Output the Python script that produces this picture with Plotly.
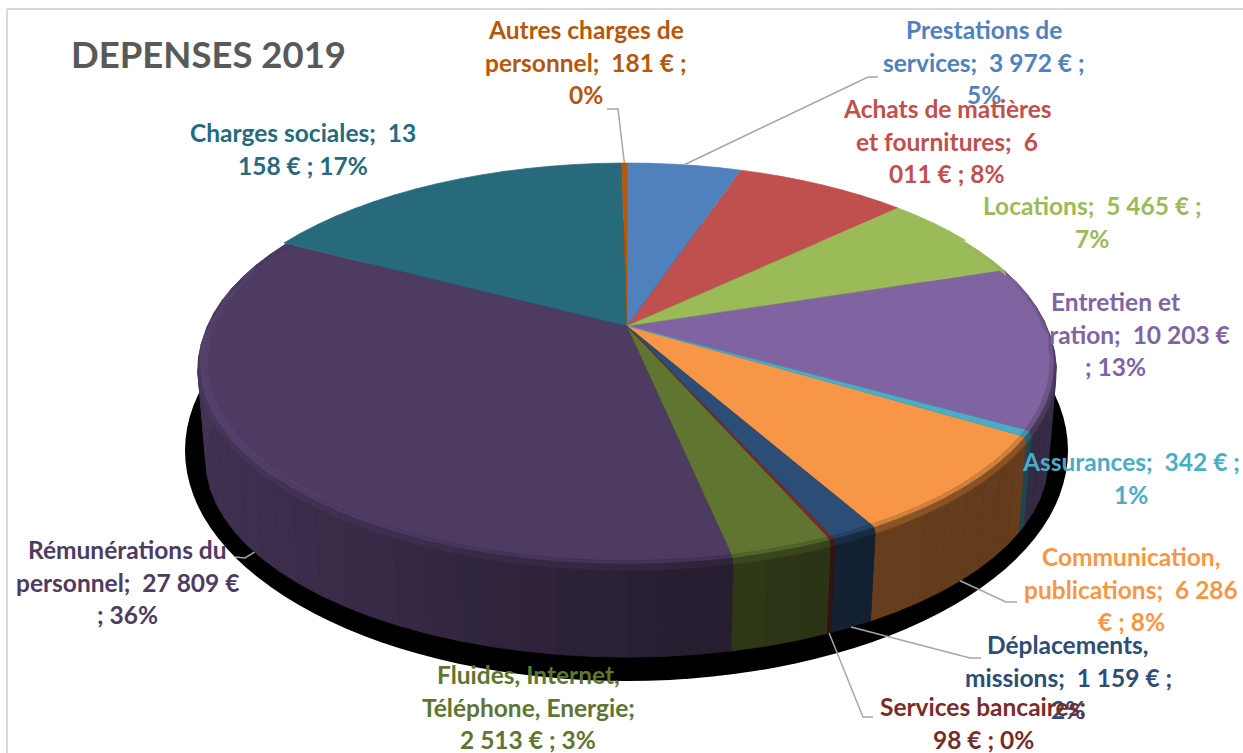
import numpy as np
import plotly.graph_objects as go

# ---------- data ----------
categories = ["Prestations de services", "Achats de matières et fournitures", "Locations",
              "Entretien et réparation", "Assurances", "Communication, publications",
              "Déplacements, missions", "Services bancaires", "Fluides, Internet, Téléphone, Energie",
              "Rémunérations du personnel", "Charges sociales", "Autres charges de personnel"]
values = [3972, 6011, 5465, 10203, 342, 6286, 1159, 98, 2513, 27809, 13158, 181]
colors = ["#4F81BD", "#C0504D", "#9BBB59", "#8064A2", "#4BACC6", "#F79646",
          "#2C4D75", "#772C2A", "#5F7530", "#4D3B62", "#276A7C", "#B65708"]
label_lines = [
    ["Prestations de", "services;\u00a0 3 972 € ;", "5%"],
    ["Achats de matières", "et fournitures;\u00a0 6", "011 € ; 8%"],
    ["Locations;\u00a0 5 465 € ;", "7%"],
    ["Entretien et", "réparation;\u00a0 10 203 €", "; 13%"],
    ["Assurances;\u00a0 342 € ;", "1%"],
    ["Communication,", "publications;\u00a0 6 286", "€ ; 8%"],
    ["Déplacements,", "missions;\u00a0 1 159 € ;", "2%"],
    ["Services bancaires;", "98 € ; 0%"],
    ["Fluides, Internet,", "Téléphone, Energie;", "2 513 € ; 3%"],
    ["Rémunérations du", "personnel;\u00a0 27 809 €", "; 36%"],
    ["Charges sociales;\u00a0 13", "158 € ; 17%"],
    ["Autres charges de", "personnel;\u00a0 181 € ;", "0%"],
]
title = "DEPENSES 2019"

# ---------- layout of the labels (centre x, first line y) ----------
label_pos = [(984, 29.5), (947, 108.5), (1092, 205.5), (1115, 301.5), (1131, 461.5), (1131, 556.5),
             (1068, 644.5), (983, 706.5), (528, 674.5), (127, 549.5), (303, 132.5), (586, 29.5)]
LINE_H = 32.7
FONT = "Lato, Carlito, Calibri, sans-serif"

# leader lines: slice index -> elbow points in page pixels (first end comes from the slice angle)
leaders = {0: [(868, 77), (878, 77)], 11: [(618, 109), (607, 109)],
           5: [(1006, 602), (1017, 602)], 6: [(970, 658), (981, 658)],
           7: [(863, 717), (873, 717)], 9: [(245, 558), (235, 557)]}

# ---------- perspective pie geometry ----------
CX, CY, R, S, K = 627, 326, 422, 193.8, 0.189
DEPTH, SHRINK = 97, 0.02


def project(theta_deg, r=1.0, d=0.0):
    t = np.radians(theta_deg)
    x, y = r * np.sin(t), r * np.cos(t)
    w = 1 + K * y
    X, Y = R * x / w, -S * y / w
    return CX + X * (1 - SHRINK * d), CY + Y * (1 - SHRINK * d) + DEPTH * d


def shade(hex_color, f):
    rgb = [int(hex_color[i:i + 2], 16) for i in (1, 3, 5)]
    return "#%02x%02x%02x" % tuple(int(min(255, max(0, c * f))) for c in rgb)


def side_factor(theta):
    return float(np.interp(theta, [60, 75, 85, 100, 130, 150, 170, 190, 212, 240, 270, 297],
                           [1, .95, .7, .45, .40, .42, .5, .6, .73, .82, .88, .95]))


total = sum(values)
edges = np.concatenate([[0], np.cumsum(values)]) / total * 360

# ---------- build the polygons ----------
side_polys, band_polys = {}, {}


def add(store, color, xs, ys):
    px, py = store.setdefault(color, ([], []))
    px.extend(list(xs) + [xs[0], None])
    py.extend(list(ys) + [ys[0], None])


for idx in np.argsort(values)[::-1]:
    a0, a1 = edges[idx], edges[idx + 1]
    n = max(1, int(np.ceil((a1 - a0) / 4)))
    steps = np.linspace(a0, a1, n + 1)
    for s0, s1 in zip(steps[:-1], steps[1:]):
        mid = (s0 + s1) / 2
        front = 60 < mid < 297
        sf = side_factor(mid)
        hl = 1 + 0.18 * float(np.interp(mid, [195, 235, 285, 297], [0, 1, 1, 0]))
        if front:
            x0, y0 = project(s0, 1, 0.06)
            x1, y1 = project(s1, 1, 0.06)
            x2, y2 = project(s1, 1, 1)
            x3, y3 = project(s0, 1, 1)
            add(side_polys, shade(colors[idx], sf), [x0, x1, x2, x3], [y0, y1, y2, y3])
        profile = [(0.972, 0, 1), (0.985, 0, hl), (0.995, 0.01, (hl + sf) / 2), (1, 0.06, sf)] if front \
            else [(0.972, 0, 1), (1, 0, 1)]
        for (r0, d0, f0), (r1, d1, f1) in zip(profile[:-1], profile[1:]):
            x0, y0 = project(s0, r0, d0)
            x1, y1 = project(s1, r0, d0)
            x2, y2 = project(s1, r1, d1)
            x3, y3 = project(s0, r1, d1)
            add(band_polys, shade(colors[idx], (f0 + f1) / 2), [x0, x1, x2, x3], [y0, y1, y2, y3])

fig = go.Figure()


def poly_trace(xs, ys, color, width=0.7):
    fig.add_trace(go.Scatter(x=xs, y=ys, mode="lines", fill="toself", fillcolor=color,
                             line=dict(color=color, width=width), hoverinfo="skip", showlegend=False))


for c, (xs, ys) in side_polys.items():
    poly_trace(xs, ys, c)
for c, (xs, ys) in band_polys.items():
    poly_trace(xs, ys, c)

# flat top of every slice, thin ones last so that they stay visible
for idx in np.argsort(values)[::-1]:
    arc = np.linspace(edges[idx], edges[idx + 1], max(2, int((edges[idx + 1] - edges[idx]) / 1.5) + 2))
    ax, ay = project(arc, 0.975, 0)
    name = categories[idx]
    fig.add_trace(go.Scatter(x=[CX, *ax, CX], y=[CY, *ay, CY], mode="lines", fill="toself",
                             fillcolor=colors[idx], line=dict(color=colors[idx], width=0.5),
                             name=name, hovertemplate=f"{name}: {values[idx]} €<extra></extra>",
                             showlegend=False))

# leader lines
for idx, pts in leaders.items():
    mid = (edges[idx] + edges[idx + 1]) / 2
    d = 1 if 60 < mid < 297 else 0
    sx, sy = project(mid, 1.0, d)
    fig.add_trace(go.Scatter(x=[float(sx)] + [p[0] for p in pts], y=[float(sy)] + [p[1] for p in pts],
                             mode="lines", line=dict(color="#A6A6A6", width=1.5),
                             hoverinfo="skip", showlegend=False))

# ---------- text ----------
annotations = [dict(x=69, y=54, xref="x", yref="y", text=f"<b>{title}</b>", showarrow=False,
                    xanchor="left", yanchor="middle", font=dict(family=FONT, size=36.5, color="#595959"))]
for lines, (px, py), col in zip(label_lines, label_pos, colors):
    for j, line in enumerate(lines):
        annotations.append(dict(x=px, y=py + j * LINE_H, xref="x", yref="y", text=f"<b>{line}</b>",
                                showarrow=False, xanchor="center", yanchor="middle",
                                font=dict(family=FONT, size=24.5, color=col)))

fig.update_layout(
    width=1243, height=753, margin=dict(l=0, r=0, t=0, b=0),
    paper_bgcolor="white", plot_bgcolor="white", showlegend=False,
    xaxis=dict(range=[0, 1243], visible=False, fixedrange=True),
    yaxis=dict(range=[753, 0], visible=False, fixedrange=True),
    annotations=annotations,
    shapes=[
        dict(type="circle", xref="x", yref="y", x0=185, x1=1068, y0=220, y1=681,
             fillcolor="black", line=dict(width=0), layer="below"),
        dict(type="line", xref="x", yref="y", x0=7, x1=7, y0=9, y1=753,
             line=dict(color="#D9D9D9", width=2), layer="below"),
        dict(type="line", xref="x", yref="y", x0=7, x1=1243, y0=9, y1=9,
             line=dict(color="#D9D9D9", width=2), layer="below"),
    ],
)

fig.write_html("out.html", config={"displayModeBar": False},
               post_script="document.body.style.margin='0';document.body.style.overflow='hidden';")
